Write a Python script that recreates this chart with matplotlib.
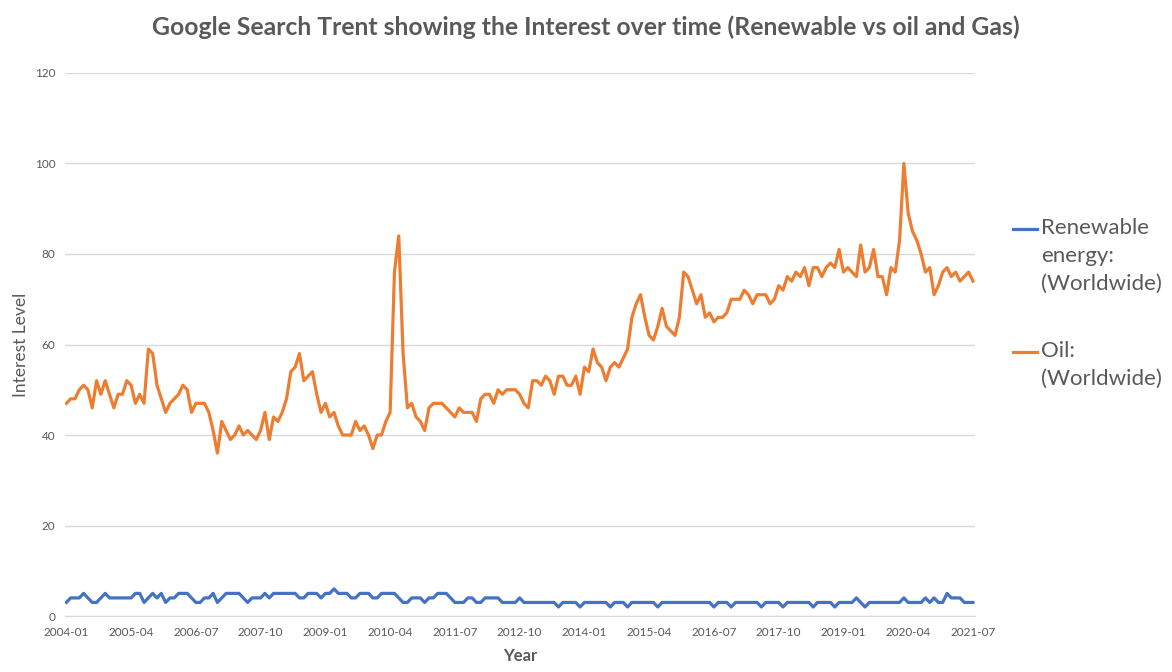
import matplotlib.pyplot as plt
from matplotlib.lines import Line2D
import pandas as pd

# monthly Google Trends interest, 2004-01 .. 2021-07
months = pd.date_range("2004-01-01", "2021-07-01", freq="MS")

oil = [47, 48, 48, 50, 51, 50, 46, 52, 49, 52,
       49, 46, 49, 49, 52, 51, 47, 49, 47, 59,
       58, 51, 48, 45, 47, 48, 49, 51, 50, 45,
       47, 47, 47, 45, 41, 36, 43, 41, 39, 40,
       42, 40, 41, 40, 39, 41, 45, 39, 44, 43,
       45, 48, 54, 55, 58, 52, 53, 54, 49, 45,
       47, 44, 45, 42, 40, 40, 40, 43, 41, 42,
       40, 37, 40, 40, 43, 45, 76, 84, 58, 46,
       47, 44, 43, 41, 46, 47, 47, 47, 46, 45,
       44, 46, 45, 45, 45, 43, 48, 49, 49, 47,
       50, 49, 50, 50, 50, 49, 47, 46, 52, 52,
       51, 53, 52, 49, 53, 53, 51, 51, 53, 49,
       55, 54, 59, 56, 55, 52, 55, 56, 55, 57,
       59, 66, 69, 71, 66, 62, 61, 64, 68, 64,
       63, 62, 66, 76, 75, 72, 69, 71, 66, 67,
       65, 66, 66, 67, 70, 70, 70, 72, 71, 69,
       71, 71, 71, 69, 70, 73, 72, 75, 74, 76,
       75, 77, 73, 77, 77, 75, 77, 78, 77, 81,
       76, 77, 76, 75, 82, 76, 77, 81, 75, 75,
       71, 77, 76, 83, 100, 89, 85, 83, 80, 76,
       77, 71, 73, 76, 77, 75, 76, 74, 75, 76, 74]

renewable = [3, 4, 4, 4, 5, 4, 3, 3, 4, 5,
             4, 4, 4, 4, 4, 4, 5, 5, 3, 4,
             5, 4, 5, 3, 4, 4, 5, 5, 5, 4,
             3, 3, 4, 4, 5, 3, 4, 5, 5, 5,
             5, 4, 3, 4, 4, 4, 5, 4, 5, 5,
             5, 5, 5, 5, 4, 4, 5, 5, 5, 4,
             5, 5, 6, 5, 5, 5, 4, 4, 5, 5,
             5, 4, 4, 5, 5, 5, 5, 4, 3, 3,
             4, 4, 4, 3, 4, 4, 5, 5, 5, 4,
             3, 3, 3, 4, 4, 3, 3, 4, 4, 4,
             4, 3, 3, 3, 3, 4, 3, 3, 3, 3,
             3, 3, 3, 3, 2, 3, 3, 3, 3, 2,
             3, 3, 3, 3, 3, 3, 2, 3, 3, 3,
             2, 3, 3, 3, 3, 3, 3, 2, 3, 3,
             3, 3, 3, 3, 3, 3, 3, 3, 3, 3,
             2, 3, 3, 3, 2, 3, 3, 3, 3, 3,
             3, 2, 3, 3, 3, 3, 2, 3, 3, 3,
             3, 3, 3, 2, 3, 3, 3, 3, 2, 3,
             3, 3, 3, 4, 3, 2, 3, 3, 3, 3,
             3, 3, 3, 3, 4, 3, 3, 3, 3, 4,
             3, 4, 3, 3, 5, 4, 4, 4, 3, 3, 3]

tick_step = 15
tick_labels = [m.strftime("%Y-%m") for m in months[::tick_step]]

gray = "#595959"
blue = "#4472C4"
orange = "#ED7D31"
plt.rcParams['font.family'] = ['Lato', 'DejaVu Sans']

fig = plt.figure(figsize=(11.72, 6.72), dpi=100)
ax = fig.add_axes([0.0555, 0.0833, 0.7765, 0.8081])

x = range(len(months))
ax.plot(x, renewable, color=blue, lw=2.3, solid_joinstyle="round")
ax.plot(x, oil, color=orange, lw=2.3, solid_joinstyle="round")

ax.set_xlim(-0.3, 210.5)
ax.set_ylim(0, 120)
ax.set_yticks(range(0, 121, 20))
ax.set_xticks(list(x)[::tick_step])
ax.set_xticklabels(tick_labels)
ax.grid(axis='y', color="#D9D9D9", lw=1)
ax.set_axisbelow(True)
for s in ["top", "right", "left"]:
    ax.spines[s].set_visible(False)
ax.spines["bottom"].set_color("#D9D9D9")
ax.tick_params(axis='both', length=0, colors=gray, labelsize=8.5)
ax.tick_params(axis='x', pad=8)
ax.tick_params(axis='y', pad=7)

ax.set_xlabel("Year", color=gray, fontsize=12, fontweight="bold", labelpad=7)
ax.set_ylabel("Interest Level", color=gray, fontsize=12.5, labelpad=4)

fig.suptitle("Google Search Trent showing the Interest over time (Renewable vs oil and Gas)",
             color=gray, fontsize=17.8, fontweight="bold", y=0.977)

# legend on the right, drawn by hand so the handle sits on the first line
fs = 16
for col, lines, ytop in [(blue, "Renewable\nenergy:\n(Worldwide)", 229),
                         (orange, "Oil:\n(Worldwide)", 352)]:
    yf = 1 - ytop / 672
    fig.add_artist(Line2D([1013 / 1172, 1037 / 1172], [yf, yf], color=col, lw=2.3,
                          transform=fig.transFigure))
    fig.text(1041 / 1172, yf + 11 / 672, lines, color=gray, fontsize=fs, va="top",
             linespacing=1.5, transform=fig.transFigure)

fig.savefig("out.png", dpi=100)
